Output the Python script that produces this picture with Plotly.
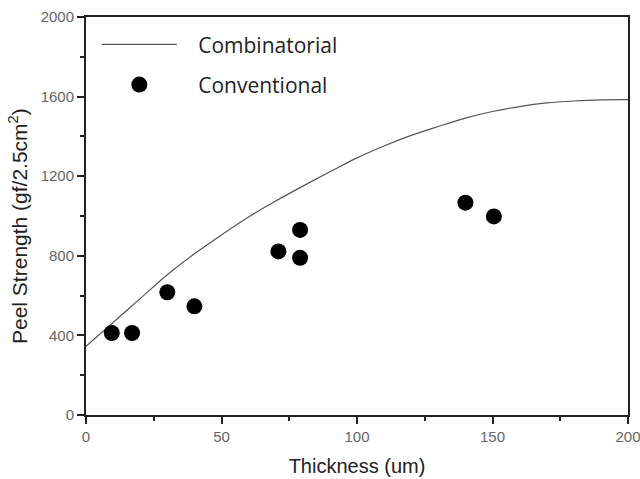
import plotly.graph_objects as go

# Combinatorial curve
comb_x = [0, 10, 20, 30, 40, 50, 60, 70, 80, 90, 100, 110, 120, 130, 140, 150, 160, 170, 180, 190, 200]
comb_y = [345, 465, 585, 705, 810, 905, 995, 1075, 1150, 1222, 1292, 1352, 1405, 1450, 1492, 1525, 1550, 1568, 1578, 1584, 1585]

# Conventional points
conv_x = [9.5, 17, 30, 40, 71, 79, 79, 140, 150.5]
conv_y = [412, 412, 617, 546, 822, 930, 790, 1067, 998]

x_ticks = [0, 50, 100, 150, 200]
y_ticks = [0, 400, 800, 1200, 1600, 2000]

fig = go.Figure()
fig.add_trace(go.Scatter(x=comb_x, y=comb_y, mode="lines", name="\u00a0\u00a0\u00a0Combinatorial",
                         line=dict(color="#555555", width=1.2, shape="spline"),
                         legendgroup="a"))
fig.add_trace(go.Scatter(x=conv_x, y=conv_y, mode="markers", name="\u00a0\u00a0\u00a0Conventional",
                         marker=dict(color="black", size=16),
                         legendgroup="b"))

axis_common = dict(showline=True, linecolor="#222222", linewidth=2, mirror=True,
                   ticks="outside", tickcolor="#222222", tickwidth=2, ticklen=7,
                   showgrid=False, zeroline=False, automargin=False,
                   ticklabeloverflow="allow",
                   tickfont=dict(family="Liberation Sans, Arial", size=15, color="#666666"),
                   minor=dict(ticks="outside", ticklen=4, tickwidth=2, tickcolor="#222222"))

fig.update_xaxes(range=[0, 200], tickvals=x_ticks, title_text="Thickness (um)",
                 title_font=dict(family="Liberation Sans, Arial", size=20, color="#222222"),
                 title_standoff=15, **axis_common)
fig.update_xaxes(minor_dtick=25)
fig.update_yaxes(range=[0, 2000], tickvals=y_ticks, **axis_common)
fig.update_yaxes(minor_dtick=200)

fig.add_annotation(text="Peel Strength (gf/2.5cm<sup>2</sup>)", textangle=-90,
                   xref="paper", yref="paper", x=0, y=0.5, xanchor="center", yanchor="middle",
                   xshift=-68, yshift=-10, showarrow=False,
                   font=dict(family="Liberation Sans, Arial", size=21, color="#222222"))

fig.update_layout(
    width=640, height=479,
    margin=dict(l=86, r=12, t=17, b=64),
    plot_bgcolor="white", paper_bgcolor="white",
    showlegend=True,
    legend=dict(x=0.02, y=0.982, xanchor="left", yanchor="top",
                font=dict(family="Open Sans", size=21, color="#222222"),
                bgcolor="rgba(0,0,0,0)", tracegroupgap=10, itemwidth=75),
)

fig.write_html("out.html", config={"displayModeBar": False},
               post_script="document.body.style.margin='0';document.body.style.padding='0';")
